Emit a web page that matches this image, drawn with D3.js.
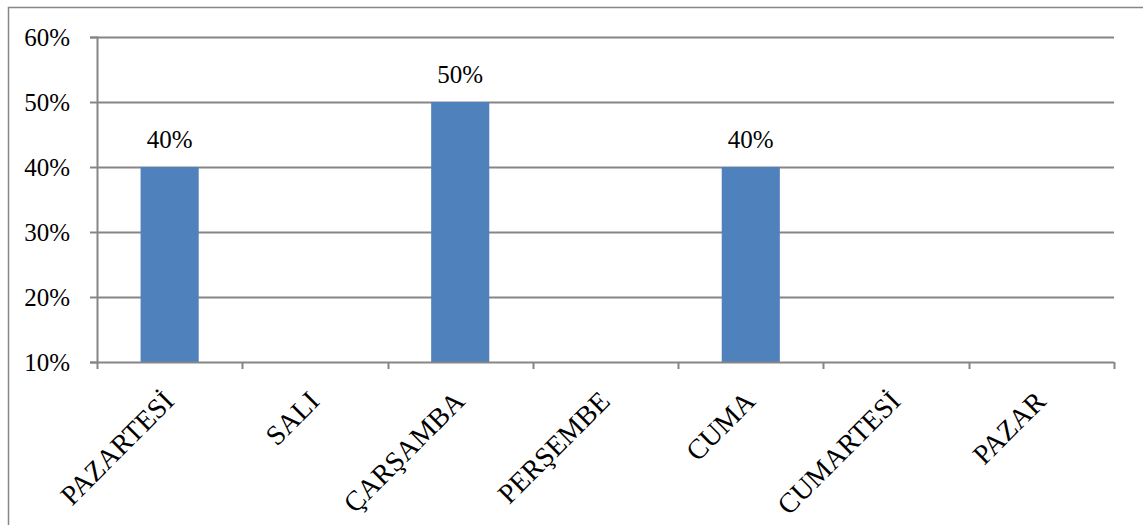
<!DOCTYPE html>
<html>
<head>
<meta charset="utf-8">
<script src="https://cdn.jsdelivr.net/npm/d3@7"></script>
<style>
  html, body { margin: 0; padding: 0; background: #fff; overflow: hidden; }
  svg { display: block; }
  svg text { font-family: "Liberation Serif", "Times New Roman", serif; fill: #000; }
</style>
</head>
<body>
<svg id="chart" width="1143" height="525"></svg>
<script>
// Days of the week and the share recorded for each (null = no bar)
const days = ["PAZARTESİ", "SALI", "ÇARŞAMBA", "PERŞEMBE", "CUMA", "CUMARTESİ", "PAZAR"];
const shares = [0.40, null, 0.50, null, 0.40, null, null];
const yTicks = [0.10, 0.20, 0.30, 0.40, 0.50, 0.60];

const svg = d3.select("#chart");
const W = 1143, H = 525;
const plot = { left: 97, right: 1114, top: 37, bottom: 362 };
const gridColor = "#868686";
const fontSize = 25;

// Outer chart frame
svg.append("rect")
  .attr("x", 8.5).attr("y", 7.5)
  .attr("width", W + 20).attr("height", H + 20)
  .attr("fill", "none").attr("stroke", gridColor).attr("stroke-width", 1.5);

const x = d3.scaleBand().domain(days).range([plot.left, plot.right]).paddingInner(0).paddingOuter(0);
const y = d3.scaleLinear().domain([0.10, 0.60]).range([plot.bottom, plot.top]);
const fmt = d3.format(".0%");

// Horizontal gridlines
svg.append("g").selectAll("line").data(yTicks.slice(1)).join("line")
  .attr("x1", plot.left).attr("x2", plot.right)
  .attr("y1", d => Math.round(y(d)) + 0.5).attr("y2", d => Math.round(y(d)) + 0.5)
  .attr("stroke", gridColor).attr("stroke-width", 2);

// Y axis
const yAxis = svg.append("g")
  .attr("transform", `translate(${plot.left},0)`)
  .call(d3.axisLeft(y).tickValues(yTicks).tickFormat(fmt).tickSize(7).tickPadding(20));
yAxis.select(".domain").attr("stroke", gridColor).attr("stroke-width", 2);
yAxis.selectAll(".tick line").attr("stroke", gridColor).attr("stroke-width", 2);
yAxis.selectAll(".tick text")
  .attr("font-size", fontSize).attr("fill", "#000").attr("dy", "0.34em");

const rows = days.map((d, i) => ({ day: d, v: shares[i] })).filter(d => d.v !== null);

// Bars
const bandW = x.bandwidth();
const barW = bandW * 0.4;
svg.append("g").selectAll("rect").data(rows)
  .join("rect")
  .attr("x", d => x(d.day) + (bandW - barW) / 2)
  .attr("width", barW)
  .attr("y", d => y(d.v))
  .attr("height", d => y(0.10) - y(d.v))
  .attr("fill", "#4F81BD");

// Value labels above bars
svg.append("g").selectAll("text").data(rows)
  .join("text")
  .attr("x", d => x(d.day) + bandW / 2)
  .attr("y", d => y(d.v) - 19)
  .attr("text-anchor", "middle")
  .attr("font-size", fontSize)
  .text(d => fmt(d.v));

// X axis with category boundary ticks
const xAxisG = svg.append("g").attr("transform", `translate(0,${plot.bottom})`);
xAxisG.append("line")
  .attr("x1", plot.left).attr("x2", plot.right)
  .attr("y1", 0.5).attr("y2", 0.5)
  .attr("stroke", gridColor).attr("stroke-width", 2);
const bounds = days.map(d => x(d)).concat([plot.right]);
xAxisG.selectAll("line.tk").data(bounds).join("line").attr("class", "tk")
  .attr("x1", d => Math.round(d) + 0.5).attr("x2", d => Math.round(d) + 0.5)
  .attr("y1", 0).attr("y2", 7)
  .attr("stroke", gridColor).attr("stroke-width", 2);

// Rotated category labels
xAxisG.selectAll("text").data(days).join("text")
  .attr("transform", d => `translate(${x(d) + bandW / 2 + 6},${41}) rotate(-45)`)
  .attr("text-anchor", "end")
  .attr("font-size", 28)
  .text(d => d);
</script>
</body>
</html>
